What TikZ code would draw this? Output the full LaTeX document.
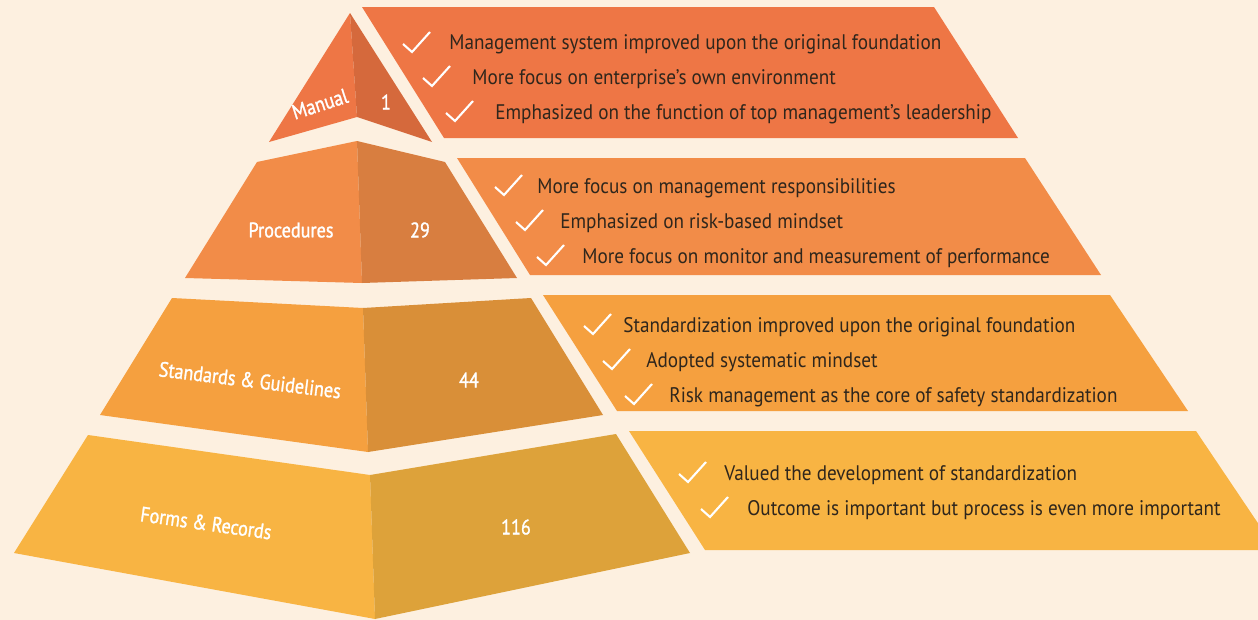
\documentclass[tikz,border=0pt]{standalone}
\usepackage{fontspec}
\setmainfont{PT Sans}[FakeStretch=0.91]
\newfontfamily\lblfont{PT Sans}[FakeStretch=0.86, FakeBold=1.3]
\usepackage{xcolor}
\definecolor{pagebg}{HTML}{FDF0E0}
\definecolor{manlight}{HTML}{EE7645}
\definecolor{mandark}{HTML}{D5693C}
\definecolor{prolight}{HTML}{F28C48}
\definecolor{prodark}{HTML}{D87E40}
\definecolor{stdlight}{HTML}{F5A03F}
\definecolor{stddark}{HTML}{D98F38}
\definecolor{frmlight}{HTML}{F8B443}
\definecolor{frmdark}{HTML}{DDA23A}
\definecolor{itemtext}{HTML}{2F261C}

\begin{document}
\begin{tikzpicture}[
  x=0.2mm, y=-0.2mm,
  font=\fontsize{12}{14}\selectfont,
  lbl/.style={text=white, inner sep=0pt, font=\lblfont\fontsize{12}{14}\selectfont},
  item/.style={anchor=base west, text=itemtext, inner sep=0pt},
  tick/.style={draw=white, line width=1.2pt},
]

\useasboundingbox (0,0) rectangle (1258,620);
\fill[pagebg] (0,0) rectangle (1258,620);
\clip (0,0) rectangle (1258,620);

\fill[manlight] (350,13) -- (269,142) -- (357,117) -- cycle;
\fill[mandark]  (350,13) -- (357,117) -- (432,142) -- cycle;
\fill[prolight] (257,162) -- (357,141) -- (362,283) -- (185,278) -- cycle;
\fill[prodark]  (357,141) -- (445,162) -- (517,278) -- (362,283) -- cycle;
\fill[stdlight] (172,298) -- (363,308) -- (368,452) -- (100,415) -- cycle;
\fill[stddark]  (363,308) -- (531,298) -- (603,415) -- (368,452) -- cycle;
\fill[frmlight] (88,435) -- (370,475) -- (375,619) -- (14,553) -- cycle;
\fill[frmdark]  (370,475) -- (616,434) -- (690,553) -- (375,619) -- cycle;

\fill[manlight] (362,7) -- (934,7) -- (1018,138) -- (444,138) -- cycle;
\fill[prolight] (457,158) -- (1025,158) -- (1101,275) -- (530,275) -- cycle;
\fill[stdlight] (543,295) -- (1110,295) -- (1188,411) -- (617,411) -- cycle;
\fill[frmlight] (629,431) -- (1196,431) -- (1276,550) -- (705,550) -- cycle;

\node[lbl, rotate=18] (manual) at (320,104) {Manual};
\node[lbl] (n1) at (386,102) {1};
\node[lbl] (proc) at (291,230) {Procedures};
\node[lbl] (n29) at (420,230) {29};
\node[lbl, rotate=-7] (std) at (250,380) {Standards \& Guidelines};
\node[lbl] (n44) at (469,380) {44};
\node[lbl, rotate=-8] (forms) at (206,523) {Forms \& Records};
\node[lbl] (n116) at (516,527) {116};

\foreach \cx/\tx/\by/\txt [count=\k] in {
  403/449/50/Management system improved upon the original foundation,
  423/472/84/More focus on enterprise’s own environment,
  446/495/119/Emphasized on the function of top management’s leadership,
  495/537/193/More focus on management responsibilities,
  516/560/228/Emphasized on risk-based mindset,
  537/582/263/More focus on monitor and measurement of performance,
  584/623/332/Standardization improved upon the original foundation,
  603/646/367/Adopted systematic mindset,
  625/669/402/Risk management as the core of safety standardization,
  679/724/480/Valued the development of standardization,
  701/747/515/Outcome is important but process is even more important}
{
  \draw[tick] (\cx,\by-6) -- ++(9,8) -- ++(18,-20);
  \node[item] (item\k) at (\tx,\by) {\txt};
}

\end{tikzpicture}
\end{document}
